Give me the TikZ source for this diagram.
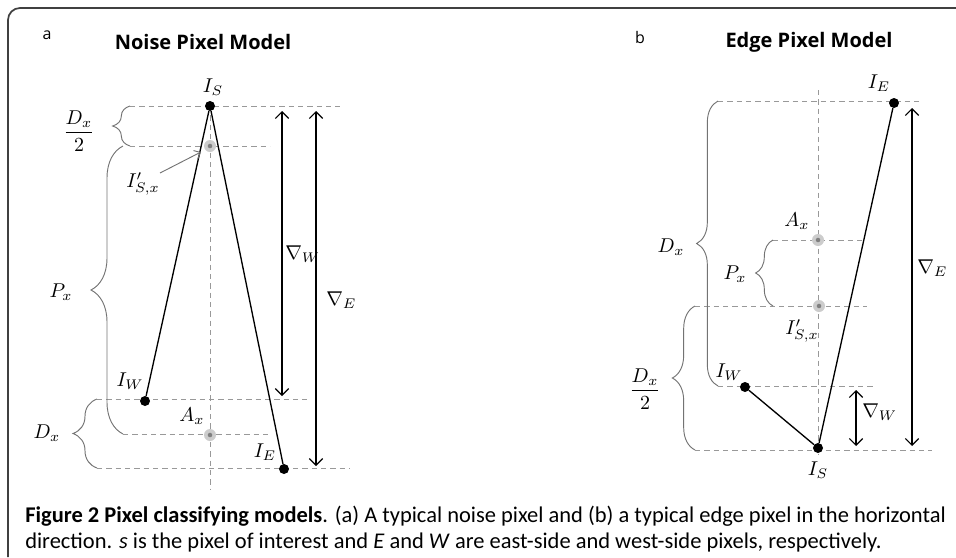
\documentclass[tikz,border=0pt]{standalone}
\usepackage{fontspec}
\setsansfont{Open Sans}
\newfontfamily\capfont{Carlito}
\usetikzlibrary{arrows.meta,decorations.pathreplacing}
\newcommand\mlab[1]{\scalebox{1.5}{$#1$}}
\begin{document}
\begin{tikzpicture}[x=0.75pt,y=-0.75pt,
  dot/.style={circle,fill=black,inner sep=0pt,minimum size=7.5pt},
  gpt/.style={circle,fill=black!20,inner sep=0pt,minimum size=9pt,
    path picture={\fill[black!50] (path picture bounding box.center) circle (1.7pt);}},
  guide/.style={black!40,line width=0.6pt,dash pattern=on 4pt off 3pt},
  wire/.style={line width=1pt},
  dim/.style={line width=0.9pt,{Straight Barb[length=5pt,width=10pt]}-{Straight Barb[length=5pt,width=10pt]}},
  brc/.style={black!55,line width=0.7pt,decorate,decoration={brace,amplitude=#1}},
  lab/.style={inner sep=0pt,font=\fontsize{10}{12}\selectfont},
  ttl/.style={inner sep=0pt,font=\sffamily\bfseries\fontsize{15}{18}\selectfont},
  pnl/.style={inner sep=0pt,font=\sffamily\fontsize{12}{14}\selectfont},
  capt/.style={inner sep=0pt,anchor=base west,font=\capfont\fontsize{16.85}{20}\selectfont}]
\useasboundingbox (0,0) rectangle (956,557);
% frame
\draw[black!75,line width=1.3pt,rounded corners=9pt] (8,557) -- (8,8) -- (956,8);

% ---------------- panel a ----------------
\node[pnl] (la) at (47,35) {a};
\node[ttl] (ta) at (203,42) {Noise Pixel Model};
% guides
\draw[guide] (210,106) -- (210,490);
\draw[guide] (130,106) -- (340,106);
\draw[guide] (130,146) -- (270,146);
\draw[guide] (97,399) -- (307,399);
\draw[guide] (123,434) -- (270,434);
\draw[guide] (97,468) -- (350,468);
% points
\node[gpt] (aSx) at (210,146) {};
\node[gpt] (aA) at (210,435) {};
\node[dot] (aS) at (210,106) {};
\node[dot] (aW) at (145,401) {};
\node[dot] (aE) at (284,469) {};
\draw[wire] (aS) -- (aW);
\draw[wire] (aS) -- (aE);
% labels
\node[lab] (aSl) at (213,87) {\mlab{I_S}};
\node[lab] (aWl) at (130,381) {\mlab{I_W}};
\node[lab] (aEl) at (265,452) {\mlab{I_E}};
\node[lab] (aAl) at (192,416) {\mlab{A_x}};
\node[lab] (aSxl) at (143,184) {\mlab{I^{\prime}_{S,x}}};
\draw[black!55,line width=0.7pt,-{Straight Barb[length=4pt,width=7pt]}] (160,173) -- (201,152);
% dimension arrows
\coordinate (aW1) at (282,111);
\coordinate (aW2) at (282,396);
\coordinate (aE1) at (316,111);
\coordinate (aE2) at (316,466);
\draw[dim] (aW1) -- (aW2);
\draw[dim] (aE1) -- (aE2);
\node[lab,anchor=west] (aGW) at (285,254) {\mlab{\nabla_{W}}};
\node[lab,anchor=west] (aGE) at (326,300) {\mlab{\nabla_{E}}};
% braces
\draw[brc=13pt] (130,146) -- (130,106);
\node[lab] (aD2) at (79,131) {\mlab{\displaystyle\frac{D_x}{2}}};
\draw[brc=24pt] (123,434) -- (123,146);
\node[lab] (aP) at (61,292) {\mlab{P_x}};
\draw[brc=18pt] (97,468) -- (97,399);
\node[lab] (aD) at (47,433) {\mlab{D_x}};

% ---------------- panel b ----------------
\node[pnl] (lb) at (640,37) {b};
\node[ttl] (tb) at (809,42) {Edge Pixel Model};
% guides
\draw[guide] (818,90) -- (818,455);
\draw[guide] (718,101) -- (923,101);
\draw[guide] (773,240) -- (862,240);
\draw[guide] (695,306) -- (867,306);
\draw[guide] (718,386) -- (875,386);
\draw[guide] (695,450) -- (932,450);
% points
\node[gpt] (bA) at (818,240) {};
\node[gpt] (bSx) at (819,306) {};
\node[dot] (bE) at (894,103) {};
\node[dot] (bW) at (745,387) {};
\node[dot] (bS) at (818,448) {};
\draw[wire] (bW) -- (bS);
\draw[wire] (bS) -- (bE);
% labels
\node[lab] (bEl) at (879,83) {\mlab{I_E}};
\node[lab] (bAl) at (797,221) {\mlab{A_x}};
\node[lab] (bSxl) at (802,331) {\mlab{I^{\prime}_{S,x}}};
\node[lab] (bWl) at (729,372) {\mlab{I_W}};
\node[lab] (bSl) at (818,470) {\mlab{I_S}};
% dimension arrows
\coordinate (bE1) at (912,108);
\coordinate (bE2) at (912,446);
\coordinate (bW1) at (856,390);
\coordinate (bW2) at (856,446);
\draw[dim] (bE1) -- (bE2);
\draw[dim] (bW1) -- (bW2);
\node[lab,anchor=west] (bGE) at (917,268) {\mlab{\nabla_{E}}};
\node[lab,anchor=west] (bGW) at (862,412) {\mlab{\nabla_{W}}};
% braces
\draw[brc=16pt] (718,386) -- (718,101);
\node[lab] (bD) at (671,247) {\mlab{D_x}};
\draw[brc=13pt] (773,306) -- (773,240);
\node[lab] (bP) at (735,274) {\mlab{P_x}};
\draw[brc=17pt] (695,450) -- (695,306);
\node[lab] (bD2) at (645,389) {\mlab{\displaystyle\frac{D_x}{2}}};

% ---------------- caption ----------------
\node[capt] (c1) at (25,522) {\textbf{Figure 2 Pixel classifying models}. (a) A typical noise pixel and (b) a typical edge pixel in the horizontal};
\node[capt] (c2) at (25,548) {direction. \textit{s} is the pixel of interest and \textit{E} and \textit{W} are east-side and west-side pixels, respectively.};
\end{tikzpicture}
\end{document}
